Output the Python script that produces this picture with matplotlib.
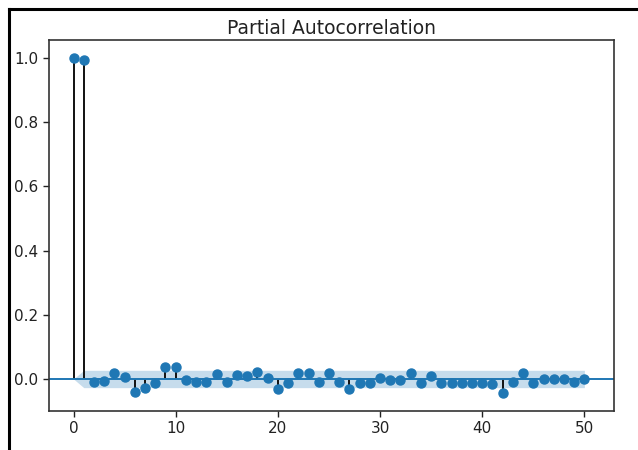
import numpy as np
import matplotlib
matplotlib.use("Agg")
import matplotlib.pyplot as plt
from matplotlib.lines import Line2D

title = "Partial Autocorrelation"
lags = list(range(0, 51))
pacf_values = [
    1.000, 0.995, -0.008, -0.006, 0.018, 0.007, -0.040, -0.028, -0.011, 0.037,
    0.037, -0.003, -0.008, -0.008, 0.015, -0.008, 0.012, 0.008, 0.023, 0.003,
    -0.031, -0.012, 0.018, 0.018, -0.008, 0.020, -0.008, -0.031, -0.013, -0.013,
    0.003, -0.003, -0.003, 0.018, -0.011, 0.008, -0.011, -0.011, -0.011, -0.011,
    -0.011, -0.017, -0.045, -0.008, 0.020, -0.011, 0.001, 0.000, 0.000, -0.010,
    0.000,
]
conf_halfwidth = 0.027
x_ticks = [0, 10, 20, 30, 40, 50]
y_ticks = [0.0, 0.2, 0.4, 0.6, 0.8, 1.0]

plt.rcParams["font.family"] = "DejaVu Sans"
fig = plt.figure(figsize=(6.38, 4.5), dpi=100)
ax = fig.add_axes([0.0768, 0.0867, 0.8856, 0.8244])

lags_a = np.array(lags)
vals = np.array(pacf_values)
half = np.full(len(lags), conf_halfwidth)
half[0] = 0.0

ax.vlines(lags_a, [0], vals, colors="#111111", linewidth=1.4)
ax.axhline(0, color="C0", linewidth=1.4)
ax.plot(lags_a, vals, marker="o", markersize=6.5, linestyle="None", color="C0")
ax.fill_between(lags_a, -half, half, alpha=0.25, color="C0", linewidth=0)

ax.set_xlim(-2.4, 52.9)
ax.set_ylim(-0.0997, 1.056)
ax.set_xticks(x_ticks)
ax.set_yticks(y_ticks)
ax.set_yticklabels([f"{v:.1f}" for v in y_ticks])
ax.tick_params(labelsize=11, length=4, width=1.0, colors="#222222")
for s in ax.spines.values():
    s.set_linewidth(1.2)
    s.set_color("#333333")
ax.set_title(title, fontsize=13.5, color="#222222", pad=4)

# screenshot frame lines (left and top)
fig.add_artist(Line2D([8.5 / 638, 8.5 / 638], [0, 1 - 9 / 450], transform=fig.transFigure,
                      color="black", linewidth=2.2))
fig.add_artist(Line2D([8.5 / 638, 1], [1 - 9 / 450, 1 - 9 / 450], transform=fig.transFigure,
                      color="black", linewidth=2.2))

fig.savefig("out.png", dpi=100)
